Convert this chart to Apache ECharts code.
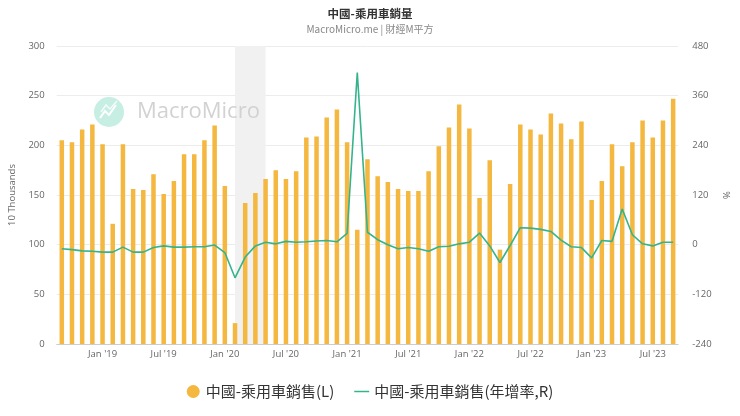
<!DOCTYPE html>
<html>
<head>
<meta charset="utf-8">
<script src="https://cdn.jsdelivr.net/npm/echarts@6/dist/echarts.min.js"></script>
<style>
html,body{margin:0;padding:0;background:#fff;}
#chart{width:740px;height:416px;}
</style>
</head>
<body>
<div id="chart"></div>
<script>
const months = [
 '2018-09','2018-10','2018-11','2018-12',
 '2019-01','2019-02','2019-03','2019-04','2019-05','2019-06','2019-07','2019-08','2019-09','2019-10','2019-11','2019-12',
 '2020-01','2020-02','2020-03','2020-04','2020-05','2020-06','2020-07','2020-08','2020-09','2020-10','2020-11','2020-12',
 '2021-01','2021-02','2021-03','2021-04','2021-05','2021-06','2021-07','2021-08','2021-09','2021-10','2021-11','2021-12',
 '2022-01','2022-02','2022-03','2022-04','2022-05','2022-06','2022-07','2022-08','2022-09','2022-10','2022-11','2022-12',
 '2023-01','2023-02','2023-03','2023-04','2023-05','2023-06','2023-07','2023-08','2023-09'
];
const salesL = [
 205,203,216,221,
 201,121,201,156,155,171,151,164,191,191,205,220,
 159,21,142,152,166,175,166,174,208,209,228,236,
 203,115,186,169,163,156,154,154,174,199,218,241,
 217,147,185,95,161,221,216,211,232,222,206,224,
 145,164,201,179,203,225,208,225,247
];
const yoyR = [
 -10,-12,-15,-16,
 -18,-18,-6,-18,-18,-7,-3,-6,-6,-5,-5,-1,
 -19,-80,-30,-3,6,2,8,6,7,9,10,7,
 27,416,30,12,0,-10,-7,-10,-16,-5,-4,2,
 6,28,-3,-43,-2,41,40,37,32,11,-5,-7,
 -32,10,8,86,24,2,-3,6,6
];
const leftTicks = {min:0, max:300, interval:50};
const rightTicks = {min:-240, max:480, interval:120};
const shadeRange = ['2020-02','2020-05'];
const seriesNames = ['中國-乘用車銷售(L)','中國-乘用車銷售(年增率,R)'];
const titleText = '中國-乘用車銷量';
const subText = 'MacroMicro.me | 財經M平方';

const monthAbbr = ['Jan','Feb','Mar','Apr','May','Jun','Jul','Aug','Sep','Oct','Nov','Dec'];
const showTick = (i, v) => { const m = v.slice(5); return m === '01' || m === '07'; };
const fmt = v => monthAbbr[parseInt(v.slice(5),10)-1] + " '" + v.slice(2,4);

const latin = '"Open Sans","Noto Sans CJK TC",sans-serif';
const cjk = '"Noto Sans CJK TC","Noto Sans",sans-serif';

const chart = echarts.init(document.getElementById('chart'));
chart.setOption({
  animation: false,
  backgroundColor: '#fff',
  title: {
    text: titleText, subtext: subText, left: 'center', top: 3, itemGap: 5,
    textStyle: {fontSize: 11.5, fontWeight: 'bold', color: '#333', fontFamily: cjk},
    subtextStyle: {fontSize: 10, color: '#888', fontFamily: cjk}
  },
  graphic: [
    {type:'circle', shape:{cx:109, cy:112, r:15}, style:{fill:'#c6eee3'}, z:2, silent:true},
    {type:'polyline', shape:{points:[[100,118],[105,111],[109,115],[116,105]]}, style:{stroke:'#fff', lineWidth:2, fill:null}, z:2, silent:true},
    {type:'polyline', shape:{points:[[101,112],[106,105],[110,109],[117,101]]}, style:{stroke:'#fff', lineWidth:1.5, fill:null, opacity:0.8}, z:2, silent:true},
    {type:'text', x:137, y:112, style:{text:'MacroMicro', fontSize:22, fontFamily:latin, fill:'#d2d2d2', textVerticalAlign:'middle'}, z:2, silent:true}
  ],
  legend: {
    bottom: 12, left: 'center', itemGap: 20, itemWidth: 15, itemHeight: 13,
    textStyle: {fontSize: 15, color: '#333', fontFamily: cjk},
    data: [
      {name: seriesNames[0], icon: 'circle'},
      {name: seriesNames[1], icon: 'path://M0,9 L20,9 L20,11 L0,11 Z'}
    ]
  },
  grid: {left: 53, right: 57, top: 46, bottom: 72},
  xAxis: {
    type: 'category', data: months, boundaryGap: true,
    axisLine: {lineStyle: {color: '#ccc'}},
    axisTick: {alignWithLabel: true, interval: showTick, lineStyle: {color: '#ccc'}},
    axisLabel: {interval: showTick, formatter: fmt, color: '#666', fontSize: 9.5, fontFamily: latin, margin: 6}
  },
  yAxis: [
    {type: 'value', min: leftTicks.min, max: leftTicks.max, interval: leftTicks.interval,
     name: '10 Thousands', nameLocation: 'middle', nameGap: 32, nameRotate: 90,
     nameTextStyle: {fontSize: 9.5, color: '#666', fontFamily: latin},
     axisLine: {show: false}, axisTick: {show: false},
     axisLabel: {color: '#666', fontSize: 9.5, fontFamily: latin, margin: 12},
     splitLine: {lineStyle: {color: '#ececec'}}},
    {type: 'value', min: rightTicks.min, max: rightTicks.max, interval: rightTicks.interval,
     name: '%', nameLocation: 'middle', nameGap: 34, nameRotate: 90,
     nameTextStyle: {fontSize: 9.5, color: '#666', fontFamily: latin},
     axisLine: {show: false}, axisTick: {show: false},
     axisLabel: {color: '#666', fontSize: 9.5, fontFamily: latin, margin: 14},
     splitLine: {show: false}}
  ],
  series: [
    {type: 'custom', name: 'shade', yAxisIndex: 0, z: 1, silent: true,
     data: [[months.indexOf(shadeRange[0]), months.indexOf(shadeRange[1])]],
     encode: {x: [0, 1]},
     renderItem: function (params, api) {
       const a = api.coord([api.value(0), leftTicks.max]);
       const b = api.coord([api.value(1), leftTicks.min]);
       return {type: 'rect', shape: {x: a[0], y: a[1], width: b[0] - a[0], height: b[1] - a[1]},
               style: {fill: '#f1f1f1'}};
     }},
    {name: seriesNames[0], type: 'bar', data: salesL, barWidth: 4.5, yAxisIndex: 0, z: 3,
     itemStyle: {color: '#f4b73f'}},
    {name: seriesNames[1], type: 'line', data: yoyR, yAxisIndex: 1, z: 4,
     showSymbol: false, symbol: 'none',
     lineStyle: {color: '#34b48d', width: 1.6}, itemStyle: {color: '#34b48d'}}
  ]
});
</script>
</body>
</html>
